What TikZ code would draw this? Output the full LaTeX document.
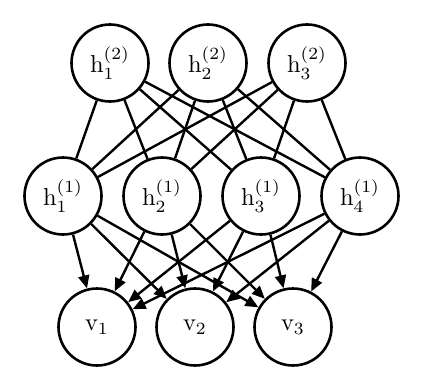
\documentclass[tikz,border=0pt]{standalone}
\usetikzlibrary{arrows.meta}
\newcommand{\lbl}[1]{\scalebox{2.45}{$#1$}}
\begin{document}
\begin{tikzpicture}[x=1pt,y=-1pt,
  unit/.style={circle,draw,line width=2.6pt,minimum size=77pt,inner sep=0pt},
  link/.style={line width=2.4pt},
  arr/.style={line width=2.4pt,-{Triangle[length=13pt,width=11pt]}}]
\useasboundingbox (0,0) rectangle (422,380);
\node[unit] (a1) at (110,63) {\lbl{\mathrm{h}_1^{(2)}}};
\node[unit] (a2) at (208,63) {\lbl{\mathrm{h}_2^{(2)}}};
\node[unit] (a3) at (307,63) {\lbl{\mathrm{h}_3^{(2)}}};
\node[unit] (b1) at (63,196) {\lbl{\mathrm{h}_1^{(1)}}};
\node[unit] (b2) at (162,196) {\lbl{\mathrm{h}_2^{(1)}}};
\node[unit] (b3) at (261,196) {\lbl{\mathrm{h}_3^{(1)}}};
\node[unit] (b4) at (360,196) {\lbl{\mathrm{h}_4^{(1)}}};
\node[unit] (c1) at (97,327) {\lbl{\mathrm{v}_1}};
\node[unit] (c2) at (195,327) {\lbl{\mathrm{v}_2}};
\node[unit] (c3) at (293,327) {\lbl{\mathrm{v}_3}};
\foreach \a in {a1,a2,a3}
  \foreach \b in {b1,b2,b3,b4}
    \draw[link] (\a) -- (\b);
\foreach \b in {b1,b2,b3,b4}
  \foreach \c in {c1,c2,c3}
    \draw[arr] (\b) -- (\c);
\end{tikzpicture}
\end{document}
